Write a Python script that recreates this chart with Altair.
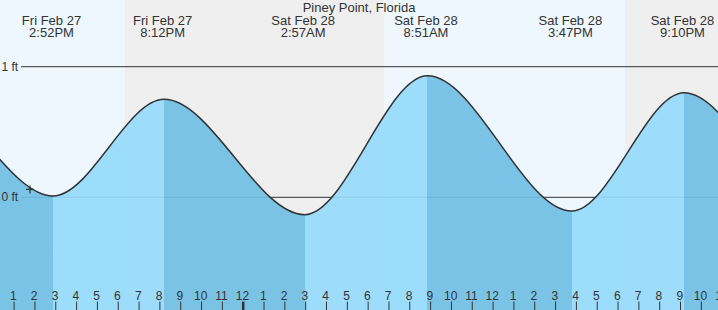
import altair as alt
import pandas as pd

# ---- data ----
# tide extremes: hours since Fri Feb 27 00:00, height in ft (first/last two lie outside the view)
tide_hours = [2.4, 8.6, 14.867, 20.2, 26.95, 32.85, 39.783, 45.167, 51.5, 57.6]
tide_ft = [0.02, 0.78, 0.01, 0.75, -0.133, 0.93, -0.105, 0.80, -0.10, 0.85]

label_hours = [14.867, 20.2, 26.95, 32.85, 39.783, 45.167]
label_dates = ["Fri Feb 27", "Fri Feb 27", "Sat Feb 28", "Sat Feb 28", "Sat Feb 28", "Sat Feb 28"]
label_times = ["2:52PM", "8:12PM", "2:57AM", "8:51AM", "3:47PM", "9:10PM"]

band_start = [12.0, 18.31, 30.785, 42.33]
band_end = [18.31, 30.785, 42.33, 48.0]
band_kind = ["day", "night", "day", "night"]

hour_ticks = list(range(13, 48))
hour_labels = [str((h - 1) % 12 + 1) for h in hour_ticks]
hour_major = [1 if h == 24 else 0 for h in hour_ticks]

level_ft = [0, 1]
level_labels = ["0 ft", "1 ft"]

now_hour = [13.76]
now_ft = [0.06]

title_text = "Piney Point, Florida"

# ---- style ----
X0, X1 = 12.322, 12.322 + 718 / 20.825
Y0, Y1 = -0.8629, 1.5107
LIGHT = "#96dbfc"
DARK = "#70bfe4"
DAY = "#eef7fe"
NIGHT = "#efefef"
INK = "#333333"
FONT = "Liberation Sans"

xs = alt.Scale(domain=[X0, X1], nice=False, zero=False)
ys = alt.Scale(domain=[Y0, Y1], nice=False, zero=False)

tide = pd.DataFrame({"h": tide_hours, "ft": tide_ft})
bands = pd.DataFrame({"s": band_start, "e": band_end, "kind": band_kind})
labels = pd.DataFrame({"h": label_hours, "d": label_dates, "t": label_times})
hours = pd.DataFrame({"h": hour_ticks, "lab": hour_labels, "major": hour_major})
levels = pd.DataFrame({"ft": level_ft, "lab": level_labels})
now = pd.DataFrame({"h": now_hour, "ft": now_ft})
title_df = pd.DataFrame({"t": [title_text]})

t0, tN = tide_hours[0], tide_hours[-1]
stops = []
for i in range(len(tide_hours) - 1):
    c = LIGHT if tide_ft[i + 1] > tide_ft[i] else DARK
    stops.append(alt.GradientStop(color=c, offset=(tide_hours[i] - t0) / (tN - t0)))
    stops.append(alt.GradientStop(color=c, offset=(tide_hours[i + 1] - t0) / (tN - t0)))
grad = alt.Gradient(gradient="linear", stops=stops, x1=0, x2=1, y1=0, y2=0)

bg = alt.Chart(bands).mark_rect(clip=True).encode(
    x=alt.X("s:Q", scale=xs, axis=None),
    x2="e:Q",
    y=alt.value(0),
    y2=alt.value(310),
    color=alt.Color("kind:N", scale=alt.Scale(domain=["day", "night"], range=[DAY, NIGHT]), legend=None),
)

rules = alt.Chart(levels).mark_rule(color=INK, strokeWidth=1).encode(
    y=alt.Y("ft:Q", scale=ys, axis=None),
    x=alt.value(21),
    x2=alt.value(718),
)

area = alt.Chart(tide).mark_area(color=grad, interpolate="monotone", clip=True, opacity=0.92).encode(
    x=alt.X("h:Q", scale=xs, axis=None),
    y=alt.Y("ft:Q", scale=ys, axis=None),
    y2=alt.datum(Y0),
)

line = alt.Chart(tide).mark_line(color=INK, strokeWidth=1.5, interpolate="monotone", clip=True).encode(
    x=alt.X("h:Q", scale=xs, axis=None),
    y=alt.Y("ft:Q", scale=ys, axis=None),
)

marker = alt.Chart(now).mark_point(
    shape="M-1,0L1,0M0,-1L0,1", size=64, filled=False, color=INK, strokeWidth=1.2, opacity=1
).encode(
    x=alt.X("h:Q", scale=xs, axis=None),
    y=alt.Y("ft:Q", scale=ys, axis=None),
)

title = alt.Chart(title_df).mark_text(font=FONT, fontSize=13, color=INK, align="center", baseline="alphabetic").encode(
    text="t:N", x=alt.value(359), y=alt.value(12)
)

lab_d = alt.Chart(labels).mark_text(font=FONT, fontSize=13, color=INK, align="center", baseline="alphabetic", dx=-1.5).encode(
    x=alt.X("h:Q", scale=xs, axis=None), y=alt.value(24.5), text="d:N"
)
lab_t = alt.Chart(labels).mark_text(font=FONT, fontSize=13, color=INK, align="center", baseline="alphabetic", dx=-1.5).encode(
    x=alt.X("h:Q", scale=xs, axis=None), y=alt.value(36.5), text="t:N"
)

ylabs = alt.Chart(levels).mark_text(font=FONT, fontSize=12, color=INK, align="left", baseline="middle").encode(
    x=alt.value(1.5), y=alt.Y("ft:Q", scale=ys, axis=None), text="lab:N"
)

ticks = alt.Chart(hours).mark_rule(color=INK).encode(
    x=alt.X("h:Q", scale=xs, axis=None),
    y=alt.value(301.5),
    y2=alt.value(310),
    strokeWidth=alt.StrokeWidth("major:Q", scale=alt.Scale(domain=[0, 1], range=[1, 2.5]), legend=None),
)
hlabs = alt.Chart(hours).mark_text(font=FONT, fontSize=12, color=INK, align="center", baseline="alphabetic", dx=-0.8).encode(
    x=alt.X("h:Q", scale=xs, axis=None), y=alt.value(300), text="lab:N"
)

chart = alt.layer(bg, rules, area, line, marker, title, lab_d, lab_t, ylabs, ticks, hlabs).properties(
    width=718, height=310, padding=0, autosize=alt.AutoSizeParams(type="none"), background="white"
).configure_view(stroke=None)

chart.save("out.html", embed_options={"renderer": "svg", "actions": False})
